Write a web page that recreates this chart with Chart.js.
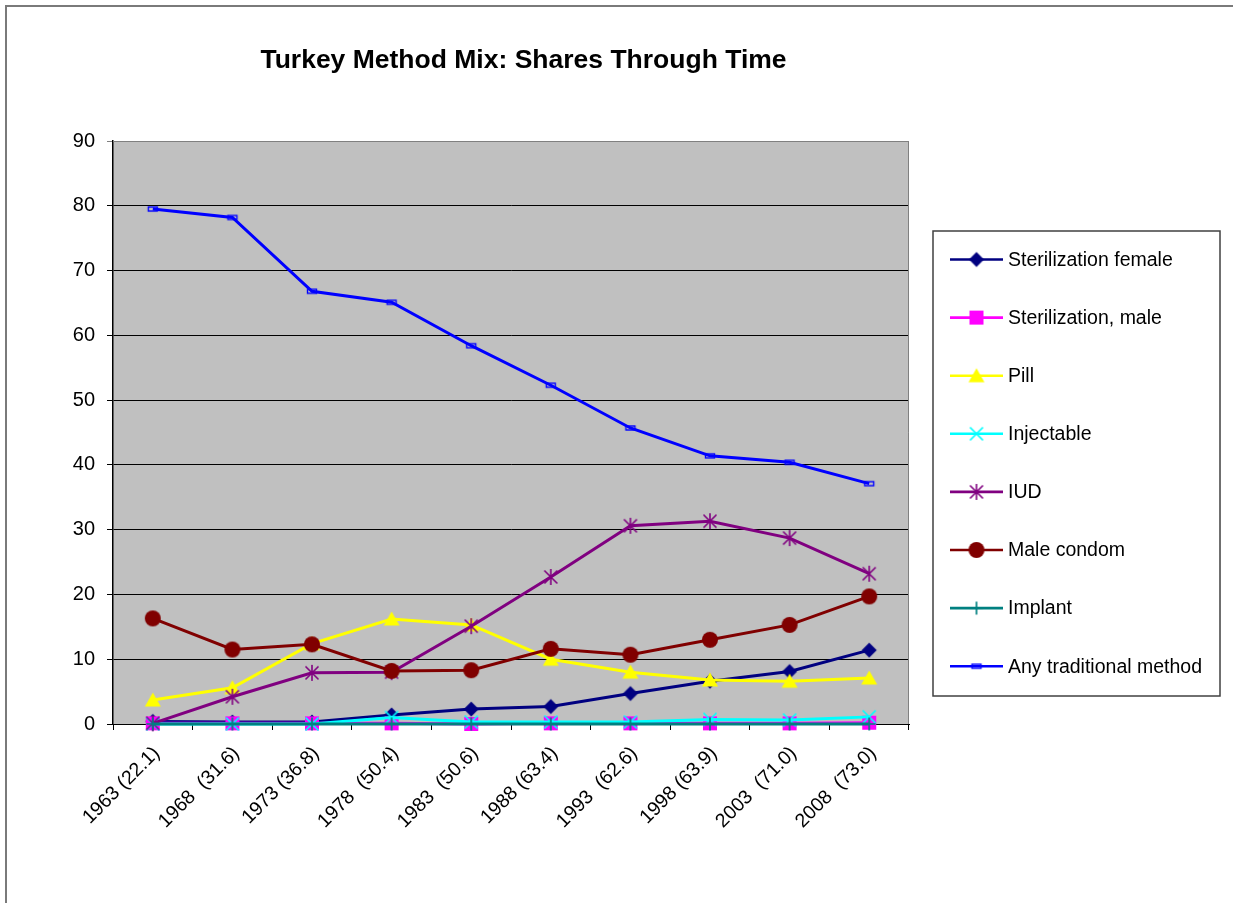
<!DOCTYPE html>
<html>
<head>
<meta charset="utf-8">
<style>
  html, body { margin: 0; padding: 0; background: #ffffff; }
  canvas { display: block; }
</style>
<script src="https://cdn.jsdelivr.net/npm/chart.js@4.4.1/dist/chart.umd.min.js"></script>
</head>
<body>
<canvas id="chart" width="1233" height="903"></canvas>
<script>
// Survey years, with overall contraceptive prevalence in brackets
const categories = ['1963 (22.1)', '1968  (31.6)', '1973 (36.8)', '1978  (50.4)', '1983  (50.6)',
                    '1988 (63.4)', '1993  (62.6)', '1998 (63.9)', '2003  (71.0)', '2008  (73.0)'];

// Share of each method among users (%)
const sterilizationFemale = [0.4, 0.3, 0.3, 1.4, 2.3, 2.7, 4.7, 6.6, 8.1, 11.4];
const sterilizationMale   = [0.1, 0.1, 0.1, 0.1, 0.0, 0.1, 0.1, 0.1, 0.1, 0.2];
const pill                = [3.7, 5.6, 12.4, 16.2, 15.3, 10.0, 8.0, 6.8, 6.6, 7.1];
const injectable          = [0.0, 0.0, 0.0, 1.0, 0.3, 0.3, 0.3, 0.7, 0.6, 1.1];
const iud                 = [0.1, 4.2, 7.9, 8.0, 15.1, 22.7, 30.6, 31.3, 28.7, 23.2];
const maleCondom          = [16.3, 11.5, 12.3, 8.2, 8.3, 11.6, 10.7, 13.0, 15.3, 19.7];
const implant             = [0.0, 0.0, 0.0, 0.0, 0.0, 0.0, 0.0, 0.0, 0.0, 0.0];
const anyTraditional      = [79.5, 78.2, 66.8, 65.1, 58.4, 52.3, 45.7, 41.4, 40.4, 37.1];

const seriesNames = ['Sterilization female', 'Sterilization, male', 'Pill', 'Injectable',
                     'IUD', 'Male condom', 'Implant', 'Any traditional method'];
const seriesValues = [sterilizationFemale, sterilizationMale, pill, injectable,
                      iud, maleCondom, implant, anyTraditional];
const seriesColors = ['#000080', '#ff00ff', '#ffff00', '#00ffff',
                      '#800080', '#800000', '#008080', '#0000ff'];
const seriesMarkers = ['diamond', 'square', 'triangle', 'x', 'star', 'circle', 'plus', 'dash'];

const yMin = 0, yMax = 90, yStep = 10;

const FONT = "'Liberation Sans', Arial, sans-serif";

// Small canvases used as point symbols
function makeMarker(kind, color) {
  const s = 22, m = s / 2;
  const c = document.createElement('canvas');
  c.width = s; c.height = s;
  const g = c.getContext('2d');
  g.fillStyle = color; g.strokeStyle = color;
  g.beginPath();
  switch (kind) {
    case 'diamond':
      g.moveTo(m, m - 7.5); g.lineTo(m + 7.5, m); g.lineTo(m, m + 7.5); g.lineTo(m - 7.5, m);
      g.closePath(); g.fill(); break;
    case 'square':
      g.fillRect(m - 7, m - 7, 14, 14); break;
    case 'triangle':
      g.moveTo(m, m - 7.5); g.lineTo(m + 8, m + 6.5); g.lineTo(m - 8, m + 6.5);
      g.closePath(); g.fill(); break;
    case 'x':
      g.lineWidth = 1.7;
      g.moveTo(m - 6.5, m - 6.5); g.lineTo(m + 6.5, m + 6.5);
      g.moveTo(m + 6.5, m - 6.5); g.lineTo(m - 6.5, m + 6.5); g.stroke(); break;
    case 'star':
      g.lineWidth = 1.6;
      g.moveTo(m - 6.5, m - 6.5); g.lineTo(m + 6.5, m + 6.5);
      g.moveTo(m + 6.5, m - 6.5); g.lineTo(m - 6.5, m + 6.5);
      g.moveTo(m, m - 8); g.lineTo(m, m + 8); g.stroke(); break;
    case 'circle':
      g.arc(m, m, 8, 0, Math.PI * 2); g.fill(); break;
    case 'plus':
      g.lineWidth = 1.7;
      g.moveTo(m - 6.5, m); g.lineTo(m + 6.5, m);
      g.moveTo(m, m - 6.5); g.lineTo(m, m + 6.5); g.stroke(); break;
    case 'dash':
      g.lineWidth = 1.4;
      g.strokeRect(m - 4.5, m - 2, 9, 4); break;
  }
  return c;
}

const markerImages = seriesMarkers.map((k, i) => makeMarker(k, seriesColors[i]));

const datasets = seriesNames.map((name, i) => ({
  label: name,
  data: seriesValues[i],
  borderColor: seriesColors[i],
  backgroundColor: seriesColors[i],
  borderWidth: 3,
  pointStyle: markerImages[i],
  pointRadius: 8,
  pointHoverRadius: 8,
  tension: 0,
  clip: false,
  order: seriesNames.length - i   // later series drawn on top
}));

// Plot background, outer frame, title and the boxed legend
const decorations = {
  id: 'decorations',
  beforeDraw(chart) {
    const { ctx, chartArea: a } = chart;
    ctx.save();
    ctx.fillStyle = '#ffffff';
    ctx.fillRect(0, 0, chart.width, chart.height);
    ctx.fillStyle = '#c0c0c0';
    ctx.fillRect(a.left, a.top, a.right - a.left, a.bottom - a.top);
    // outer frame
    ctx.strokeStyle = '#7a7a7a';
    ctx.lineWidth = 2;
    ctx.strokeRect(6, 6, chart.width + 10, chart.height + 10);
    ctx.restore();
  },
  beforeDatasetsDraw(chart) {
    const { ctx, chartArea: a } = chart;
    ctx.save();
    ctx.strokeStyle = '#808080';
    ctx.lineWidth = 1;
    ctx.beginPath();
    ctx.moveTo(a.left, a.top + 0.5); ctx.lineTo(a.right - 0.5, a.top + 0.5);
    ctx.lineTo(a.right - 0.5, a.bottom);
    ctx.stroke();
    ctx.restore();
  },
  afterDraw(chart) {
    const { ctx } = chart;
    ctx.save();
    // title
    ctx.fillStyle = '#000000';
    ctx.font = `bold 26.5px ${FONT}`;
    ctx.textAlign = 'center';
    ctx.textBaseline = 'alphabetic';
    ctx.fillText('Turkey Method Mix: Shares Through Time', 523.5, 68);

    // legend
    const box = { x: 933, y: 231, w: 287, h: 465 };
    ctx.fillStyle = '#ffffff';
    ctx.fillRect(box.x, box.y, box.w, box.h);
    ctx.strokeStyle = '#404040';
    ctx.lineWidth = 1.5;
    ctx.strokeRect(box.x, box.y, box.w, box.h);
    ctx.font = `19.5px ${FONT}`;
    ctx.textAlign = 'left';
    ctx.textBaseline = 'middle';
    chart.data.datasets.forEach((ds, i) => {
      const y = box.y + 28.5 + i * 58.1;
      ctx.strokeStyle = ds.borderColor;
      ctx.lineWidth = 2.6;
      ctx.beginPath();
      ctx.moveTo(950, y); ctx.lineTo(1003, y);
      ctx.stroke();
      const img = ds.pointStyle;
      ctx.drawImage(img, 976.5 - img.width / 2, y - img.height / 2);
      ctx.fillStyle = '#000000';
      ctx.fillText(ds.label, 1008, y + 1);
    });
    ctx.restore();
  }
};

new Chart(document.getElementById('chart'), {
  type: 'line',
  data: { labels: categories, datasets },
  options: {
    responsive: false,
    animation: false,
    devicePixelRatio: 1,
    layout: { padding: { left: 0, top: 141, right: 1233 - 909, bottom: 0 } },
    plugins: {
      legend: { display: false },
      title: { display: false },
      tooltip: { enabled: false }
    },
    scales: {
      x: {
        offset: true,
        grid: { drawOnChartArea: false, offset: true, tickLength: 6, color: '#000000' },
        border: { display: true, color: '#000000', width: 1 },
        ticks: {
          autoSkip: false, maxRotation: 45, minRotation: 45, padding: 12, labelOffset: 4,
          color: '#000000', font: { family: FONT, size: 19.5 }
        },
        afterFit(scale) { scale.height = 903 - 724; }
      },
      y: {
        min: yMin, max: yMax,
        grid: {
          color: (c) => (c.tick && c.tick.value === yMax ? '#808080' : '#000000'),
          tickLength: 6, lineWidth: 1
        },
        border: { display: true, color: '#000000', width: 1.5 },
        ticks: {
          stepSize: yStep, padding: 12, color: '#000000',
          font: { family: FONT, size: 20 }
        },
        afterFit(scale) { scale.width = 113; }
      }
    }
  },
  plugins: [decorations]
});
</script>
</body>
</html>
